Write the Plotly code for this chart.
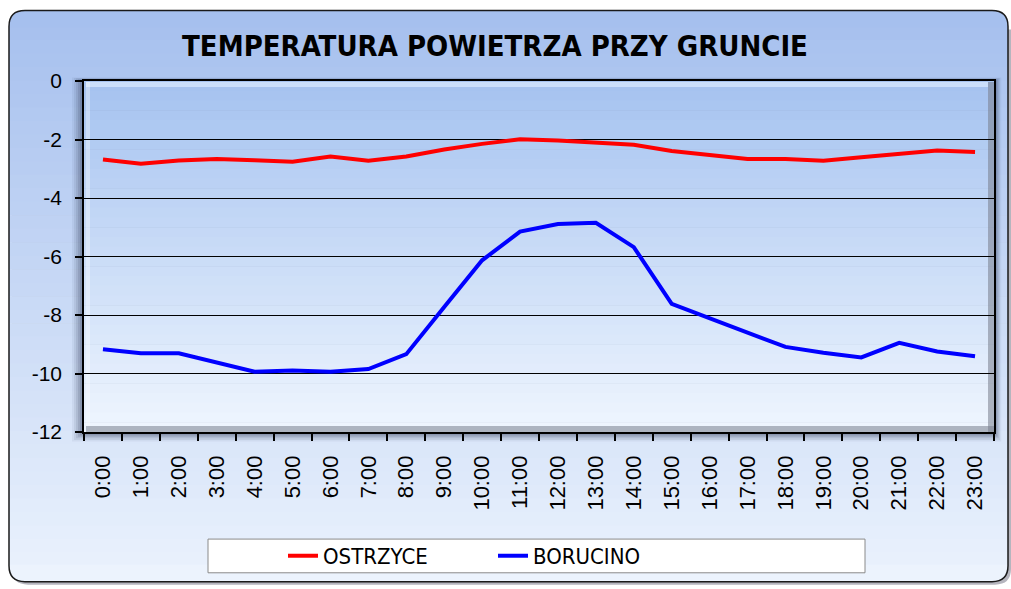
import plotly.graph_objects as go

hours = [f"{h}:00" for h in range(24)]
ostrzyce = [-2.68, -2.83, -2.72, -2.67, -2.71, -2.76, -2.58, -2.73, -2.58, -2.34, -2.15, -1.99,
            -2.03, -2.12, -2.18, -2.39, -2.52, -2.67, -2.67, -2.73, -2.61, -2.48, -2.38, -2.43]
borucino = [-9.17, -9.31, -9.31, -9.61, -9.94, -9.90, -9.94, -9.85, -9.34, -7.73, -6.13, -5.15,
            -4.89, -4.85, -5.68, -7.62, -8.11, -8.59, -9.09, -9.29, -9.45, -8.95, -9.25, -9.41]
series_names = ["OSTRZYCE", "BORUCINO"]
series_colors = ["#ff0000", "#0000ff"]
y_ticks = [0, -2, -4, -6, -8, -10, -12]
title_text = "TEMPERATURA POWIETRZA PRZY GRUNCIE"

FW, FH = 1011, 589
L, R, T, B = 84, 994, 81, 435
W, H = R - L, B - T
NARROW = "Liberation Sans Narrow, DejaVu Sans Condensed, Arial Narrow, sans-serif"


def px(x):
    return (x - L) / W


def py(y):
    return (B - y) / H


def lerp(c0, c1, t):
    return "rgb(%d,%d,%d)" % tuple(round(a + (b - a) * t) for a, b in zip(c0, c1))


shapes = []

# outer rounded frame with vertical gradient
ox0, oy0, ox1, oy1, rr = 9, 10, 1008, 586, 16
top_c, bot_c = (166, 192, 238), (236, 243, 253)
shapes.append(dict(type="path", xref="paper", yref="paper", layer="below",
                   path=f"M {px(ox0+3)},{py(oy0+rr+3)} L {px(ox0+3)},{py(oy1-rr+3)} Q {px(ox0+3)},{py(oy1+3)} {px(ox0+rr+3)},{py(oy1+3)} "
                        f"L {px(ox1-rr+3)},{py(oy1+3)} Q {px(ox1+3)},{py(oy1+3)} {px(ox1+3)},{py(oy1-rr+3)} L {px(ox1+3)},{py(oy0+rr+3)} Z",
                   fillcolor="rgba(90,90,110,0.45)", line=dict(width=0)))
n = 40
span = (oy1 - rr) - (oy0 + rr)
for i in range(n):
    y0 = oy0 + rr + span * i / n
    y1 = oy0 + rr + span * (i + 1) / n + 0.6
    t = (y0 - oy0) / (oy1 - oy0)
    shapes.append(dict(type="rect", xref="paper", yref="paper", layer="below",
                       x0=px(ox0), x1=px(ox1), y0=py(y0), y1=py(y1),
                       fillcolor=lerp(top_c, bot_c, t), line=dict(width=0)))
shapes.append(dict(type="path", xref="paper", yref="paper", layer="below",
                   path=f"M {px(ox0)},{py(oy0+rr+1)} L {px(ox0)},{py(oy0+rr)} Q {px(ox0)},{py(oy0)} {px(ox0+rr)},{py(oy0)} "
                        f"L {px(ox1-rr)},{py(oy0)} Q {px(ox1)},{py(oy0)} {px(ox1)},{py(oy0+rr)} L {px(ox1)},{py(oy0+rr+1)} Z",
                   fillcolor=lerp(top_c, bot_c, 0), line=dict(width=0)))
shapes.append(dict(type="path", xref="paper", yref="paper", layer="below",
                   path=f"M {px(ox0)},{py(oy1-rr-1)} L {px(ox0)},{py(oy1-rr)} Q {px(ox0)},{py(oy1)} {px(ox0+rr)},{py(oy1)} "
                        f"L {px(ox1-rr)},{py(oy1)} Q {px(ox1)},{py(oy1)} {px(ox1)},{py(oy1-rr)} L {px(ox1)},{py(oy1-rr-1)} Z",
                   fillcolor=lerp(top_c, bot_c, 1), line=dict(width=0)))
shapes.append(dict(type="path", xref="paper", yref="paper", layer="below",
                   path=f"M {px(ox0)},{py(oy0+rr)} Q {px(ox0)},{py(oy0)} {px(ox0+rr)},{py(oy0)} L {px(ox1-rr)},{py(oy0)} "
                        f"Q {px(ox1)},{py(oy0)} {px(ox1)},{py(oy0+rr)} L {px(ox1)},{py(oy1-rr)} Q {px(ox1)},{py(oy1)} {px(ox1-rr)},{py(oy1)} "
                        f"L {px(ox0+rr)},{py(oy1)} Q {px(ox0)},{py(oy1)} {px(ox0)},{py(oy1-rr)} Z",
                   line=dict(color="#1a1a1a", width=1.5)))

# plot-area shadow
for k, a in enumerate([0.06, 0.08, 0.10, 0.13, 0.16, 0.2]):
    d = 12 - 2 * k
    shapes.append(dict(type="rect", xref="paper", yref="paper", layer="below",
                       x0=px(L - d), x1=px(R + d * 0.6), y0=py(B + d * 0.8), y1=py(T - d * 0.3),
                       fillcolor=f"rgba(40,50,80,{a})", line=dict(width=0)))

# plot-area gradient
p_top, p_bot = (166, 195, 240), (238, 245, 254)
m = 36
for i in range(m):
    y0 = T + H * i / m
    y1 = T + H * (i + 1) / m + 0.6
    shapes.append(dict(type="rect", xref="paper", yref="paper", layer="below",
                       x0=0, x1=1, y0=py(y0), y1=py(min(y1, B)),
                       fillcolor=lerp(p_top, p_bot, i / (m - 1)), line=dict(width=0)))
shapes.append(dict(type="rect", xref="paper", yref="paper", layer="below",
                   x0=px(L + 2), x1=px(R - 6), y0=py(T + 6), y1=py(T + 1),
                   fillcolor="rgba(220,235,255,0.7)", line=dict(width=0)))
shapes.append(dict(type="rect", xref="paper", yref="paper", layer="below",
                   x0=px(L + 2), x1=px(L + 6), y0=py(B - 6), y1=py(T + 1),
                   fillcolor="rgba(255,255,255,0.35)", line=dict(width=0)))
shapes.append(dict(type="rect", xref="paper", yref="paper", layer="below",
                   x0=px(L + 2), x1=px(R), y0=py(B), y1=py(B - 6),
                   fillcolor="rgba(120,125,140,0.55)", line=dict(width=0)))
shapes.append(dict(type="rect", xref="paper", yref="paper", layer="below",
                   x0=px(R - 6), x1=px(R), y0=py(B), y1=py(T + 1),
                   fillcolor="rgba(120,125,140,0.55)", line=dict(width=0)))

# legend box
shapes.append(dict(type="rect", xref="paper", yref="paper", layer="below",
                   x0=px(208), x1=px(865), y0=py(577), y1=py(543),
                   fillcolor="white", line=dict(color="#8a8a8a", width=1)))

fig = go.Figure()
for name, vals, col in zip(series_names, [ostrzyce, borucino], series_colors):
    fig.add_trace(go.Scatter(x=hours, y=vals, name=name, mode="lines",
                             line=dict(color=col, width=4)))

fig.update_layout(
    width=FW, height=FH,
    margin=dict(l=L, r=FW - R, t=T, b=FH - B, pad=0),
    paper_bgcolor="white", plot_bgcolor="rgba(0,0,0,0)",
    shapes=shapes,
    title=dict(text=f"<b>{title_text}</b>", x=495 / FW, xanchor="center", xref="container",
               y=1 - 46 / FH, yanchor="middle", yref="container",
               font=dict(family=NARROW, size=29, color="black")),
    showlegend=True,
    legend=dict(orientation="h", x=px(283), xanchor="left", y=py(560), yanchor="middle",
                bgcolor="rgba(0,0,0,0)", borderwidth=0, entrywidth=165, entrywidthmode="pixels",
                font=dict(family=NARROW, size=22, color="black"), itemwidth=30),
    font=dict(family="Liberation Sans, Arial, sans-serif", color="black"),
)
fig.update_xaxes(type="category", tickangle=-90, tickfont=dict(size=22), ticks="outside",
                 tickson="boundaries", ticklen=7, tickcolor="black", tickwidth=1.5,
                 showline=True, linecolor="black", linewidth=1.5, mirror=True,
                 showgrid=False, range=[-0.5, 23.5], ticklabelstandoff=13)
fig.update_yaxes(range=[-12, 0], tickvals=y_ticks, ticktext=[str(v) for v in y_ticks],
                 tickfont=dict(size=21), ticks="outside", ticklen=7, tickcolor="black", tickwidth=1.5,
                 showline=True, linecolor="black", linewidth=1.5, mirror=True,
                 showgrid=True, gridcolor="black", gridwidth=1.3, zeroline=False,
                 ticklabelstandoff=9)

fig.write_html("out.html", config={"displayModeBar": False},
               post_script="document.body.style.margin='0';document.body.style.overflow='hidden';")
